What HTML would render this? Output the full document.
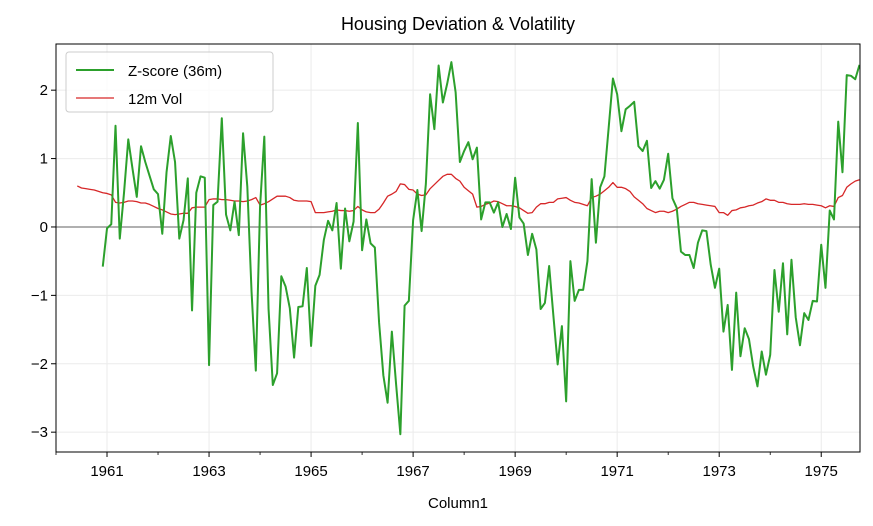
<!DOCTYPE html>
<html><head><meta charset="utf-8"><style>
body{margin:0;background:#fff;}
svg{display:block;font-family:"Liberation Sans","DejaVu Sans",sans-serif;}
</style></head><body>
<svg id="chart" width="873" height="526" viewBox="0 0 873 526" xmlns="http://www.w3.org/2000/svg">
<text x="458" y="30" text-anchor="middle" font-size="18" fill="#000">Housing Deviation &amp; Volatility</text>
<text x="458" y="508" text-anchor="middle" font-size="15" fill="#000">Column1</text>
<g id="grid"></g><g id="marks"></g><g id="axes"></g>
<g>
<rect x="66" y="52" width="207" height="60" rx="3" fill="#fff" fill-opacity="0.8" stroke="#ccc"/>
<line x1="76" y1="70" x2="114" y2="70" stroke="#2ca02c" stroke-width="2"/>
<text x="128" y="76" font-size="15">Z-score (36m)</text>
<line x1="76" y1="98" x2="114" y2="98" stroke="#d62728" stroke-width="1.3"/>
<text x="128" y="104" font-size="15">12m Vol</text>
</g>
</svg>
<script>
const zStart = 1960 + 11/12;
const zValues = [-0.58,-0.02,0.04,1.48,-0.17,0.5,1.28,0.85,0.44,1.18,0.95,0.75,0.55,0.48,-0.10,0.8,1.33,0.95,-0.17,0.1,0.71,-1.22,0.50,0.74,0.72,-2.02,0.32,0.37,1.59,0.18,-0.05,0.37,-0.12,1.37,0.59,-0.95,-2.1,0.3,1.32,-1.2,-2.31,-2.14,-0.72,-0.87,-1.19,-1.91,-1.17,-1.16,-0.6,-1.74,-0.86,-0.70,-0.19,0.09,-0.05,0.35,-0.61,0.27,-0.21,0.08,1.52,-0.34,0.11,-0.24,-0.30,-1.4,-2.17,-2.57,-1.53,-2.3,-3.03,-1.15,-1.08,0.10,0.54,-0.06,0.63,1.94,1.43,2.36,1.82,2.09,2.41,1.97,0.95,1.11,1.24,0.99,1.16,0.11,0.36,0.36,0.21,0.36,0.0,0.19,-0.03,0.72,0.14,0.05,-0.41,-0.10,-0.33,-1.2,-1.11,-0.57,-1.3,-2.01,-1.45,-2.55,-0.50,-1.08,-0.92,-0.92,-0.5,0.70,-0.23,0.58,0.74,1.45,2.17,1.94,1.40,1.72,1.77,1.83,1.18,1.11,1.26,0.57,0.67,0.56,0.69,1.07,0.42,0.28,-0.36,-0.41,-0.41,-0.60,-0.23,-0.05,-0.06,-0.55,-0.89,-0.61,-1.53,-1.14,-2.09,-0.96,-1.89,-1.48,-1.64,-2.04,-2.33,-1.82,-2.16,-1.87,-0.63,-1.24,-0.53,-1.57,-0.48,-1.32,-1.73,-1.26,-1.36,-1.08,-1.09,-0.26,-0.89,0.24,0.11,1.54,0.80,2.22,2.21,2.16,2.37];
const volStart = 1960 + 5/12;
const volValues = [0.60,0.57,0.56,0.55,0.54,0.52,0.50,0.49,0.47,0.36,0.35,0.36,0.38,0.38,0.37,0.35,0.35,0.33,0.30,0.27,0.25,0.22,0.19,0.18,0.19,0.20,0.20,0.28,0.29,0.29,0.29,0.40,0.41,0.41,0.40,0.40,0.39,0.38,0.38,0.37,0.38,0.40,0.43,0.32,0.34,0.37,0.41,0.45,0.45,0.45,0.43,0.39,0.38,0.38,0.38,0.37,0.21,0.21,0.21,0.22,0.23,0.25,0.24,0.24,0.23,0.24,0.30,0.25,0.22,0.21,0.21,0.26,0.35,0.45,0.48,0.52,0.63,0.62,0.55,0.54,0.48,0.46,0.47,0.56,0.62,0.68,0.74,0.77,0.77,0.71,0.67,0.58,0.53,0.48,0.29,0.30,0.33,0.35,0.38,0.37,0.34,0.31,0.31,0.30,0.28,0.24,0.20,0.21,0.29,0.34,0.34,0.36,0.36,0.41,0.42,0.43,0.39,0.36,0.35,0.33,0.31,0.43,0.45,0.48,0.53,0.58,0.65,0.58,0.58,0.56,0.52,0.44,0.39,0.34,0.27,0.24,0.21,0.23,0.23,0.21,0.23,0.26,0.30,0.33,0.36,0.36,0.34,0.33,0.32,0.31,0.30,0.21,0.21,0.17,0.24,0.25,0.28,0.29,0.31,0.32,0.35,0.37,0.41,0.39,0.39,0.36,0.36,0.34,0.33,0.33,0.33,0.34,0.33,0.33,0.32,0.31,0.28,0.31,0.30,0.43,0.46,0.58,0.63,0.67,0.69];
const yTicks = [-3,-2,-1,0,1,2];
const xTicks = [1961,1963,1965,1967,1969,1971,1973,1975];
const xMinor = [1960,1962,1964,1966,1968,1970,1972,1974];

const L=56,R=860,T=44,B=452, X0=1960.0, X1=1975.76, Y0=-3.29, Y1=2.675;
const xs = t => L + (t - X0) / (X1 - X0) * (R - L);
const ys = v => B - (v - Y0) / (Y1 - Y0) * (B - T);
const NS="http://www.w3.org/2000/svg";
function mk(tag, attrs, parent){const e=document.createElementNS(NS,tag);for(const k in attrs)e.setAttribute(k,attrs[k]);parent.appendChild(e);return e;}
const grid=document.getElementById('grid'), marks=document.getElementById('marks'), axes=document.getElementById('axes');

xTicks.forEach(t=>{
  const g=mk('line',{x1:xs(t),x2:xs(t),y1:T,y2:B,stroke:'#ebebeb','stroke-width':1},grid);
  
  
  const tk=mk('line',{x1:xs(t),x2:xs(t),y1:B,y2:B+5,stroke:'#000','stroke-width':1},axes);
  
  
  const lb=mk('text',{x:xs(t),y:B+24,'text-anchor':'middle','font-size':15},axes);
  lb.textContent=t;
  
  
});
xMinor.forEach(t=>{
  const tk=mk('line',{x1:xs(t),x2:xs(t),y1:B,y2:B+3,stroke:'#000','stroke-width':0.8},axes);
  
  
});
yTicks.forEach(v=>{
  const g=mk('line',{x1:L,x2:R,y1:ys(v),y2:ys(v),stroke:'#ebebeb','stroke-width':1},grid);
  
  
  const tk=mk('line',{x1:L-5,x2:L,y1:ys(v),y2:ys(v),stroke:'#000','stroke-width':1},axes);
  
  
  const lb=mk('text',{x:L-8,y:ys(v)+5,'text-anchor':'end','font-size':15},axes);
  lb.textContent=(v<0?'\u2212'+Math.abs(v):v);
  
  
});
const zl=mk('line',{x1:L,x2:R,y1:ys(0),y2:ys(0),stroke:'#808080','stroke-width':1.2},marks);



const volPath=volValues.map((v,i)=>(i?'L':'M')+xs(volStart+i/12).toFixed(2)+','+ys(v).toFixed(2)).join('');
const vp=mk('path',{d:volPath,fill:'none',stroke:'#d62728','stroke-width':1.3,'stroke-linejoin':'round'},marks);


const zPath=zValues.map((v,i)=>(i?'L':'M')+xs(zStart+i/12).toFixed(2)+','+ys(v).toFixed(2)).join('');
const zp=mk('path',{d:zPath,fill:'none',stroke:'#2ca02c','stroke-width':2,'stroke-linejoin':'round'},marks);



const frame=mk('rect',{x:L,y:T,width:R-L,height:B-T,fill:'none',stroke:'#000','stroke-width':1},axes);


</script>
</body></html>
